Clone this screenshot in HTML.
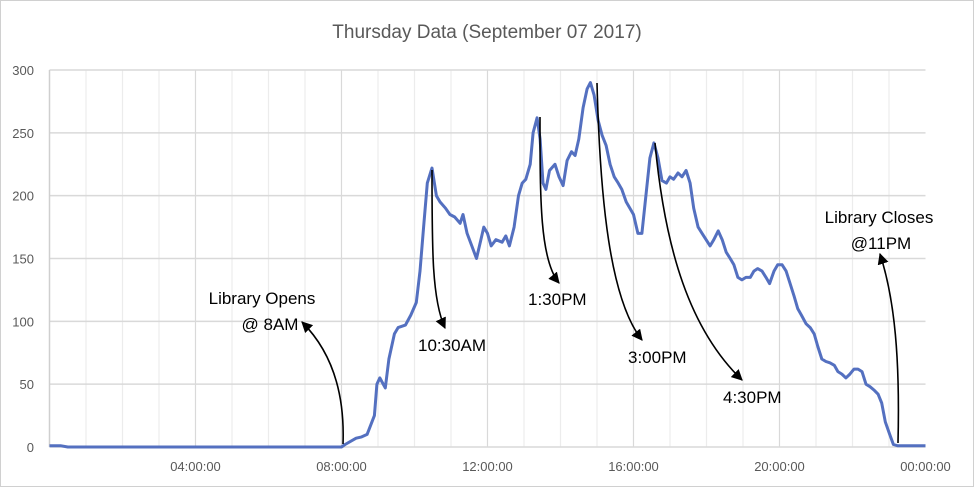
<!DOCTYPE html>
<html><head><meta charset="utf-8"><style>
body{margin:0;background:#fff}
svg{display:block;font-family:"Liberation Sans",sans-serif}
</style></head><body>
<svg width="975" height="487" viewBox="0 0 975 487" xmlns="http://www.w3.org/2000/svg">
<defs><marker id="ah" viewBox="0 0 10 10" refX="9" refY="5" markerWidth="7" markerHeight="7" orient="auto"><path d="M0,0L10,5L0,10z" fill="#000"/></marker></defs>
<rect x="0.5" y="0.5" width="973" height="486" fill="#fff" stroke="#d0d0d0"/>
<text x="487" y="38" text-anchor="middle" font-size="19" fill="#595959">Thursday Data (September 07 2017)</text>
<g id="grid"></g><g id="axes"></g>
<path id="line" fill="none" stroke="#5470c0" stroke-width="3" stroke-linejoin="round"/>
<g font-size="17" fill="#000">
<text x="262" y="304" text-anchor="middle">Library Opens</text>
<text x="270" y="330" text-anchor="middle">@ 8AM</text>
<path d="M343,444 C345,390 330,350 302,322" fill="none" stroke="#000" stroke-width="1.6" marker-end="url(#ah)"/>
<text x="418" y="351">10:30AM</text>
<path d="M432,170 C432,250 432,300 445,328" fill="none" stroke="#000" stroke-width="1.6" marker-end="url(#ah)"/>
<text x="528" y="305">1:30PM</text>
<path d="M540,117 C540,200 540,260 559,283" fill="none" stroke="#000" stroke-width="1.6" marker-end="url(#ah)"/>
<text x="628" y="363">3:00PM</text>
<path d="M597,83 C600,200 610,300 642,340" fill="none" stroke="#000" stroke-width="1.6" marker-end="url(#ah)"/>
<text x="723" y="403">4:30PM</text>
<path d="M655,143 C665,250 690,330 742,380" fill="none" stroke="#000" stroke-width="1.6" marker-end="url(#ah)"/>
<text x="879" y="223" text-anchor="middle">Library Closes</text>
<text x="881" y="249" text-anchor="middle">@11PM</text>
<path d="M898,443 C900,360 895,300 880,254" fill="none" stroke="#000" stroke-width="1.6" marker-end="url(#ah)"/>
</g>
</svg>
<script>
const hours=[0,0.3,0.5,8.0,8.1,8.4,8.55,8.7,8.9,8.97,9.05,9.2,9.3,9.45,9.55,9.75,9.9,10.05,10.15,10.25,10.35,10.48,10.6,10.7,10.85,10.97,11.1,11.25,11.33,11.44,11.57,11.7,11.82,11.9,12.0,12.1,12.23,12.4,12.5,12.6,12.73,12.85,12.95,13.05,13.17,13.25,13.36,13.44,13.52,13.6,13.7,13.85,13.96,14.07,14.18,14.3,14.4,14.5,14.62,14.73,14.82,14.92,15.03,15.14,15.25,15.36,15.47,15.58,15.68,15.8,15.9,16.0,16.12,16.23,16.34,16.45,16.56,16.67,16.78,16.9,17.0,17.1,17.22,17.33,17.44,17.55,17.65,17.77,17.88,17.99,18.1,18.2,18.32,18.43,18.54,18.65,18.75,18.86,18.97,19.08,19.2,19.3,19.4,19.52,19.63,19.73,19.85,19.95,20.07,20.18,20.29,20.4,20.5,20.6,20.73,20.84,20.95,21.05,21.16,21.27,21.38,21.5,21.6,21.71,21.82,21.93,22.04,22.15,22.26,22.37,22.48,22.6,22.7,22.8,22.9,23.02,23.12,23.23,24];
const counts=[1,1,0,0,2,7,8,10,25,50,55,47,70,90,95,97,105,115,140,175,210,222,200,195,190,185,183,178,185,170,160,150,165,175,170,160,165,163,168,160,175,200,210,213,225,250,262,245,210,205,220,225,215,208,228,235,232,245,270,285,290,280,260,248,240,225,215,210,205,195,190,185,170,170,200,230,242,230,212,210,215,213,218,215,220,210,190,175,170,165,160,165,172,165,155,150,145,135,133,135,135,140,142,140,135,130,140,145,145,140,130,120,110,105,98,95,90,80,70,68,67,65,60,58,55,58,62,62,60,50,48,45,42,35,20,10,2,1,1];
const yTicks=[0,50,100,150,200,250,300];
const xTickHours=[4,8,12,16,20,24];
const xTickLabels=["04:00:00","08:00:00","12:00:00","16:00:00","20:00:00","00:00:00"];
const X0=49.5,X1=925.5,Y0=447,Y1=70;
const x=h=>X0+(X1-X0)*h/24, y=v=>Y0-(Y0-Y1)*v/300;
const NS="http://www.w3.org/2000/svg";
const grid=document.getElementById('grid'),axes=document.getElementById('axes');
function mk(p,tag,a){const e=document.createElementNS(NS,tag);for(const k in a)e.setAttribute(k,a[k]);p.appendChild(e);return e;}
for(let h=1;h<24;h++){const e=mk(grid,'line',{x1:x(h),x2:x(h),y1:Y1,y2:Y0,stroke:h%4?'#ececec':'#d9d9d9','stroke-width':1.2});

}
yTicks.forEach(v=>{const e=mk(grid,'line',{x1:X0,x2:X1,y1:y(v),y2:y(v),stroke:'#d9d9d9','stroke-width':1.5});


const t=mk(axes,'text',{x:34,y:y(v)+5,'text-anchor':'end','font-size':13,fill:'#595959'});t.textContent=v;

});
const ax=mk(axes,'line',{x1:X0,x2:X0,y1:Y1,y2:Y0,stroke:'#cfcfcf','stroke-width':1.5});


xTickHours.forEach((h,i)=>{const t=mk(axes,'text',{x:x(h),y:471,'text-anchor':'middle','font-size':13,fill:'#595959'});t.textContent=xTickLabels[i];

});
document.getElementById('line').setAttribute('d',hours.map((h,i)=>(i?'L':'M')+x(h).toFixed(1)+','+y(counts[i]).toFixed(1)).join(''));
</script>
</body></html>
